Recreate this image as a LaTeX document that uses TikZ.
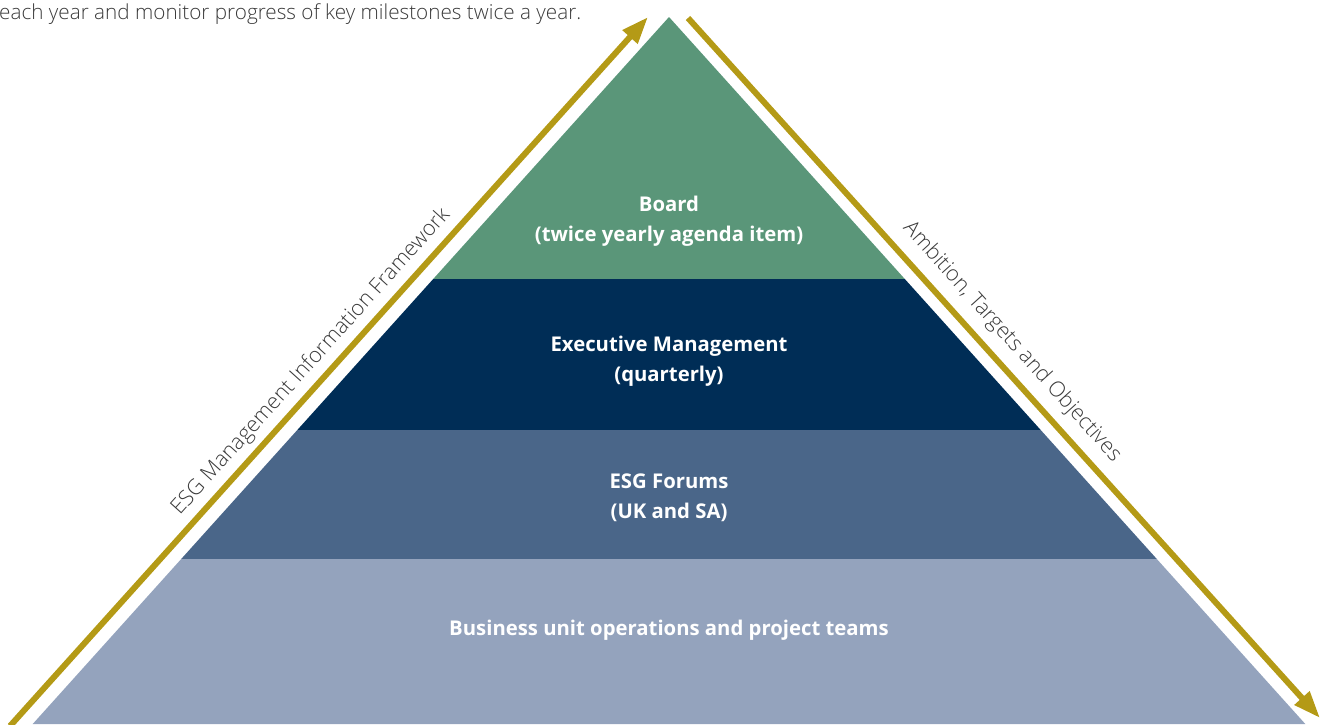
\documentclass[tikz,border=0pt]{standalone}
\usepackage{fontspec}
\setmainfont{Open Sans}
\newfontfamily\thinfont{Open Sans Light}
\usetikzlibrary{arrows.meta}

\definecolor{boardgreen}{HTML}{5A9679}
\definecolor{execnavy}{HTML}{002D56}
\definecolor{forumblue}{HTML}{4A6689}
\definecolor{unitgrey}{HTML}{94A3BD}
\definecolor{gold}{HTML}{B49A16}
\definecolor{textgrey}{HTML}{3A3A3A}

\tikzset{
  bandlabel/.style={text=white, align=center, font=\fontsize{20.3}{30}\selectfont\bfseries},
  sidelabel/.style={text=textgrey, font=\thinfont\fontsize{21.5}{24}\selectfont},
  introtext/.style={text=textgrey, font=\thinfont\fontsize{20.7}{24}\selectfont},
  goldarrow/.style={draw=gold, line width=6pt, -{Triangle[length=27pt,width=19pt]}}
}

\begin{document}
\begin{tikzpicture}[x=1pt,y=-1pt]
\useasboundingbox (0,0) rectangle (1321,724);

% pyramid bands
\fill[boardgreen] (669,17) -- (904.8,279) -- (433.2,279) -- cycle;
\fill[execnavy] (433.2,279) -- (904.8,279) -- (1040.7,430) -- (297.3,430) -- cycle;
\fill[forumblue] (297.3,430) -- (1040.7,430) -- (1156.8,559) -- (181.2,559) -- cycle;
\fill[unitgrey] (181.2,559) -- (1156.8,559) -- (1305.3,724) -- (32.7,724) -- cycle;

% band labels
\node[bandlabel] (board) at (669,221) {Board\\(twice yearly agenda item)};
\node[bandlabel] (exec) at (669,361) {Executive Management\\(quarterly)};
\node[bandlabel] (forums) at (669,498) {ESG Forums\\(UK and SA)};
\node[bandlabel] (units) at (669,630) {Business unit operations and project teams};

% side arrows
\coordinate (mistart) at (10,726);
\coordinate (miend) at (648,17);
\coordinate (atostart) at (688,18);
\coordinate (atoend) at (1320,718);
\draw[goldarrow] (mistart) -- (miend);
\draw[goldarrow] (atostart) -- (atoend);

\node[sidelabel, rotate=48] (milabel) at (311,362) {ESG Management Information Framework};
\node[sidelabel, rotate=-48] (atolabel) at (1012,342) {Ambition, Targets and Objectives};

% text cut off above
\node[introtext, anchor=base west, inner sep=0pt] (intro) at (-1,19) {each year and monitor progress of key milestones twice a year.};
\end{tikzpicture}
\end{document}
